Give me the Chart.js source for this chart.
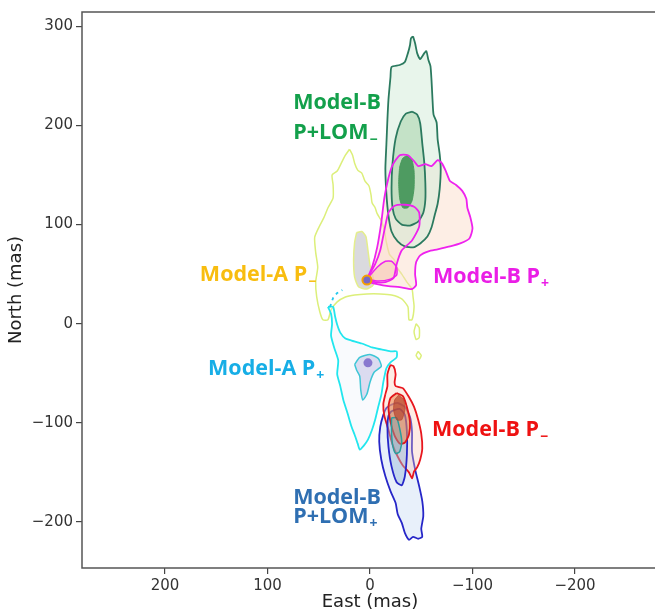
<!DOCTYPE html>
<html>
<head>
<meta charset="utf-8">
<script src="https://cdn.jsdelivr.net/npm/chart.js@4.4.1/dist/chart.umd.min.js"></script>
<style>
  html, body { margin: 0; padding: 0; background: #fff; overflow: hidden; }
</style>
</head>
<body>
<canvas id="myChart" width="668" height="616"></canvas>
<script>
// Tick positions (mas)
var eastTicks = [200, 100, 0, -100, -200];
var northTicks = [300, 200, 100, 0, -100, -200];

// Contour outlines as [east, north] pairs in mas.
// Model-B P+LOM- : three credible levels
var bLomMinusOuter = [[-42,290],[-44,283],[-46,273],[-49,267],[-53,273],[-55,275],[-57,266],[-59,260],[-60,246],[-61,226],[-62,211],[-65,203],[-66,186],[-68,171],[-69,156],[-68,136],[-66,121],[-63,109],[-60,97],[-56,88],[-49,81],[-42,77],[-34,78],[-27,83],[-21,93],[-18,109],[-16,131],[-15,156],[-16,181],[-17,206],[-18,226],[-20,249],[-21,259],[-29,261],[-34,264],[-37,273],[-39,281],[-40,288]];
var bLomMinusMid = [[-41,214],[-46,211],[-49,202],[-51,182],[-53,162],[-54,142],[-54,125],[-52,112],[-47,103],[-39,99],[-31,100],[-25,106],[-22,117],[-21,137],[-22,162],[-25,187],[-30,204],[-35,212]];
var bLomMinusCore = [[-37,170],[-41,165],[-43,154],[-43,137],[-41,124],[-37,117],[-32,117],[-29,126],[-28,142],[-29,158],[-32,167]];

// Model-B P+
var bPlusOuter = [[3,45],[-2,57],[-7,77],[-11,102],[-14,127],[-18,147],[-22,160],[-29,170],[-37,170],[-43,164],[-47,159],[-54,161],[-60,159],[-66,165],[-70,162],[-74,154],[-78,144],[-84,140],[-90,134],[-94,126],[-95,117],[-98,107],[-100,96],[-97,86],[-88,81],[-78,78],[-66,75],[-57,73],[-49,69],[-45,62],[-44,50],[-45,39],[-41,35],[-29,37],[-18,38],[-7,40],[0,42]];
var bPlusMid = [[3,45],[-5,60],[-10,74],[-14,94],[-18,112],[-24,119],[-34,120],[-43,118],[-48,112],[-48,98],[-41,84],[-31,74],[-26,60],[-23,46],[-15,42],[-5,42]];
var bPlusInner = [[3,45],[-7,57],[-15,63],[-21,63],[-26,57],[-26,49],[-20,45],[-8,43]];

// Model-A P-
var aMinusOuter = [[20,176],[17,170],[15,162],[12,155],[8,152],[5,144],[1,139],[-1,130],[-2,122],[-5,117],[-7,111],[-11,104],[-14,94],[-16,82],[-19,70],[-24,64],[-26,57],[-31,50],[-36,42],[-41,35],[-42,27],[-43,17],[-41,4],[-38,4],[-37,17],[-31,25],[-21,29],[-10,30],[3,30],[15,29],[24,27],[32,22],[38,14],[41,4],[46,4],[49,12],[52,27],[53,42],[51,57],[53,72],[54,87],[50,97],[45,107],[41,117],[36,127],[36,140],[37,150],[32,154],[28,162],[24,170]];
var aMinusMid = [[13,92],[8,93],[4,88],[2,74],[0,59],[-3,47],[-3,39],[3,35],[11,37],[15,47],[16,64],[15,82]];
var aMinusIsle1 = [[-45,0],[-48,-4],[-48,-14],[-45,-16],[-43,-8]];
var aMinusIsle2 = [[-47,-28],[-50,-32],[-48,-36],[-45,-32]];

// Model-A P+
var aPlusOuter = [[41,17],[38,10],[37,0],[38,-12],[35,-24],[31,-37],[32,-51],[29,-63],[26,-77],[22,-90],[18,-104],[15,-112],[12,-121],[10,-127],[6,-123],[2,-117],[-2,-107],[-5,-97],[-8,-84],[-11,-72],[-13,-59],[-16,-45],[-20,-39],[-26,-34],[-26,-28],[-20,-28],[-11,-26],[-2,-24],[8,-20],[18,-17],[24,-15],[29,-9],[32,-1],[34,7],[36,17]];
var aPlusMid = [[15,-41],[10,-34],[0,-31],[-8,-35],[-11,-43],[-4,-49],[0,-59],[3,-71],[7,-77],[9,-67],[10,-53],[13,-47]];
var aPlusTail = [[39,17],[36,26],[32,31],[27,34]];

// Model-B P-
var bMinusOuter = [[-15,-71],[-17,-63],[-17,-51],[-20,-42],[-23,-43],[-25,-51],[-24,-59],[-25,-63],[-32,-65],[-38,-74],[-43,-84],[-47,-97],[-50,-111],[-51,-126],[-49,-137],[-46,-145],[-43,-149],[-41,-156],[-38,-150],[-32,-143],[-27,-134],[-22,-122],[-18,-107],[-14,-93],[-13,-81]];
var bMinusMid = [[-26,-70],[-32,-73],[-36,-84],[-39,-99],[-38,-112],[-34,-120],[-29,-121],[-24,-113],[-20,-99],[-18,-84],[-20,-75]];
var bMinusCore = [[-28,-72],[-33,-77],[-34,-87],[-31,-97],[-26,-97],[-23,-87],[-24,-77]];

// Model-B P+LOM+
var bLomPlusOuter = [[-20,-82],[-27,-80],[-34,-84],[-39,-94],[-41,-109],[-41,-129],[-44,-147],[-48,-164],[-51,-179],[-52,-194],[-50,-207],[-51,-215],[-47,-217],[-42,-215],[-38,-218],[-34,-211],[-31,-201],[-27,-192],[-25,-181],[-20,-169],[-15,-154],[-11,-137],[-9,-119],[-10,-104],[-13,-92],[-16,-85]];
var bLomPlusMid = [[-21,-88],[-29,-86],[-34,-92],[-36,-109],[-36,-132],[-34,-154],[-31,-163],[-26,-160],[-21,-144],[-18,-124],[-17,-104],[-18,-93]];
var bLomPlusInner = [[-21,-95],[-26,-95],[-29,-106],[-31,-119],[-29,-129],[-25,-131],[-22,-122],[-21,-109]];

// Best-fit positions of the two Model-A solutions
var aMinusPeak = [3, 44];
var aPlusPeak = [2, -39.5];

// Text labels, anchored at the left end of the baseline (mas)
var modelLabels = [
  { text: 'Model-B', east: 75, north: 216.5, color: '#13a04b' },
  { text: 'P+LOM', sub: '\u2212', east: 75, north: 186.5, color: '#13a04b' },
  { text: 'Model-A P', sub: '\u2212', east: 166, north: 43.5, color: '#f8bd10' },
  { text: 'Model-B P', sub: '+', east: -61.5, north: 41.5, color: '#ea1ee6' },
  { text: 'Model-A P', sub: '+', east: 158, north: -51.5, color: '#17aee6' },
  { text: 'Model-B P', sub: '\u2212', east: -60.5, north: -113.5, color: '#ee1212' },
  { text: 'Model-B', east: 75, north: -181.5, color: '#2f6fb2' },
  { text: 'P+LOM', sub: '+', east: 75, north: -201.5, color: '#2f6fb2' }
];

function closed(arr) {
  var out = arr.map(function (p) { return { x: p[0], y: p[1] }; });
  out.push({ x: arr[0][0], y: arr[0][1] });
  return out;
}

function contour(arr, line, fillColor, width) {
  return {
    data: closed(arr),
    showLine: true,
    borderColor: line || 'rgba(0,0,0,0)',
    borderWidth: line ? (width || 1.8) : 0,
    backgroundColor: fillColor || 'rgba(0,0,0,0)',
    fill: fillColor ? 'shape' : false,
    pointRadius: 0,
    tension: 0.2
  };
}

function peak(p, inner, ring, r) {
  return {
    data: [{ x: p[0], y: p[1] }],
    showLine: false,
    pointRadius: r,
    pointBackgroundColor: inner,
    pointBorderColor: ring,
    pointBorderWidth: ring ? 2 : 0
  };
}

// listed bottom layer first; the Model-B P+ shading sits under the
// Model-B P+LOM- shading while its outlines are drawn above it
var layers = [
  contour(aMinusOuter, '#dcef7a', null, 1.5),
  contour(aMinusIsle1, '#dcef7a', null, 1.5),
  contour(aMinusIsle2, '#dcef7a', null, 1.5),
  contour(aMinusMid, '#e4ee8c', 'rgba(214,214,218,0.9)', 1.5),
  contour(bPlusOuter, null, 'rgba(251,218,198,0.45)'),
  contour(bPlusMid, null, 'rgba(250,210,188,0.3)'),
  contour(bPlusInner, null, 'rgba(245,190,170,0.4)'),
  contour(bLomMinusOuter, '#2b7a5f', 'rgba(214,236,218,0.55)'),
  contour(bLomMinusMid, '#2b7a5f', 'rgba(165,212,170,0.55)'),
  contour(bLomMinusCore, 'rgba(72,152,92,0.95)', 'rgba(72,152,92,0.95)', 1),
  contour(bPlusOuter, '#ee22ee', null),
  contour(bPlusMid, '#ee22ee', null),
  contour(bPlusInner, '#ee22ee', null, 1.5),
  contour(aPlusOuter, '#22e6ee', 'rgba(235,240,248,0.3)'),
  {
    data: aPlusTail.map(function (p) { return { x: p[0], y: p[1] }; }),
    showLine: true, borderColor: '#22c8ee', borderWidth: 1.8, borderDash: [3, 4],
    fill: false, pointRadius: 0
  },
  contour(aPlusMid, '#3ec6d6', 'rgba(215,215,238,0.9)', 1.5),
  contour(bLomPlusOuter, '#2626c8', 'rgba(210,225,245,0.5)'),
  contour(bMinusOuter, '#e8161e', 'rgba(250,200,180,0.35)'),
  contour(bLomPlusMid, '#2626c8', 'rgba(150,185,220,0.45)'),
  contour(bMinusMid, '#e0161a', 'rgba(236,135,80,0.6)'),
  contour(bLomPlusInner, '#2a9d9d', 'rgba(140,165,175,0.45)', 1.5),
  contour(bMinusCore, 'rgba(178,62,38,0.6)', 'rgba(178,62,38,0.65)', 1),
  peak(aPlusPeak, '#8878cf', null, 4.5),
  peak(aMinusPeak, '#7868c4', '#f5a000', 4.5)
];

function fmt(v) {
  return v < 0 ? '\u2212' + Math.abs(v) : String(v);
}

var framePlugin = {
  id: 'frame',
  afterDraw: function (chart) {
    var a = chart.chartArea, ctx = chart.ctx;
    ctx.save();
    ctx.strokeStyle = '#555';
    ctx.lineWidth = 1.5;
    ctx.strokeRect(a.left, a.top, a.right - a.left, a.bottom - a.top);
    ctx.restore();
  }
};

var labelPlugin = {
  id: 'modelLabels',
  afterDatasetsDraw: function (chart) {
    var ctx = chart.ctx, xs = chart.scales.x, ys = chart.scales.y;
    ctx.save();
    ctx.textBaseline = 'alphabetic';
    ctx.textAlign = 'left';
    modelLabels.forEach(function (l) {
      var px = xs.getPixelForValue(l.east), py = ys.getPixelForValue(l.north);
      ctx.fillStyle = l.color;
      ctx.font = 'bold 21.5px "Open Sans"';
      ctx.fillText(l.text, px, py);
      if (l.sub) {
        var w = ctx.measureText(l.text).width;
        ctx.font = 'bold 14px "Open Sans"';
        ctx.fillText(l.sub, px + w + 1, py + 5);
      }
    });
    ctx.restore();
  }
};

var ctx = document.getElementById('myChart').getContext('2d');
var myChart = new Chart(ctx, {
  type: 'scatter',
  data: { datasets: layers.slice().reverse() },
  options: {
    responsive: false,
    animation: false,
    devicePixelRatio: 1,
    layout: { padding: { left: 0, top: 7, right: 10, bottom: 0 } },
    plugins: { legend: { display: false }, tooltip: { enabled: false } },
    scales: {
      x: {
        type: 'linear',
        reverse: true,
        min: -281,
        max: 281,
        afterFit: function (s) { s.height = 48; },
        afterBuildTicks: function (s) { s.ticks = eastTicks.map(function (v) { return { value: v }; }); },
        grid: { drawOnChartArea: false, drawTicks: true, tickLength: 6, color: '#444', lineWidth: 1.2 },
        border: { display: false },
        ticks: { color: '#333', font: { family: 'DejaVu Sans', size: 15 }, padding: 3, maxRotation: 0, callback: fmt },
        title: { display: true, text: 'East (mas)', color: '#222', font: { family: 'DejaVu Sans', size: 18 }, padding: { top: 0, bottom: 3 } }
      },
      y: {
        type: 'linear',
        min: -246.5,
        max: 314.5,
        afterFit: function (s) { s.width = 82; },
        afterBuildTicks: function (s) { s.ticks = northTicks.map(function (v) { return { value: v }; }); },
        grid: { drawOnChartArea: false, drawTicks: true, tickLength: 6, color: '#444', lineWidth: 1.2 },
        border: { display: false },
        ticks: { color: '#333', font: { family: 'DejaVu Sans', size: 15 }, padding: 3, callback: fmt },
        title: { display: true, text: 'North (mas)', color: '#222', font: { family: 'DejaVu Sans', size: 18 }, padding: { top: 6, bottom: 0 } }
      }
    }
  },
  plugins: [framePlugin, labelPlugin]
});
</script>
</body>
</html>
